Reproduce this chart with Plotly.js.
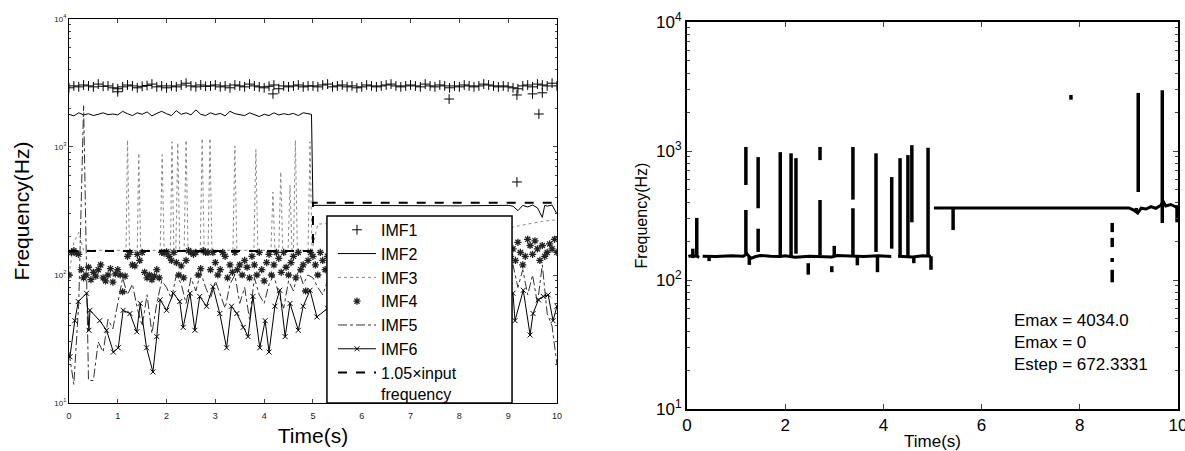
<!DOCTYPE html>
<html>
<head>
<meta charset="utf-8">
<script src="https://cdn.plot.ly/plotly-3.0.1.min.js"></script>
<style>html,body{margin:0;padding:0;background:#fff;}#chart{width:1185px;height:451px;}</style>
</head>
<body>
<div id="chart"></div>
<script>
// ---------- DATA ----------
// sampling instants (s)
const tStep01 = Array.from({length: 101}, (_, i) => Math.round(i * 10) / 100); // 0,0.1,...,10
const tStep005 = Array.from({length: 201}, (_, i) => Math.round(i * 5) / 100); // 0,0.05,...,10

// IMF1 (+ markers), Hz, at tStep01
const imf1F = [2900,3000,2950,3050,3000,2950,3100,2980,3000,2900,
               2850,2950,3050,3000,2900,2980,3020,3100,2950,3000,
               2900,3000,2950,3050,3150,3000,2950,3050,2980,3000,
               3050,2950,3000,2900,3050,3000,2950,3100,3000,2950,
               2900,2980,3050,2850,3000,2950,3000,3050,2950,3000,
               3000,2950,3050,3100,2950,3000,3050,2950,3000,2900,
               2950,3050,3000,2950,3000,3050,3100,3000,2950,3000,
               3050,3000,2950,3100,3000,2950,3050,3000,2900,3000,
               2950,3050,3000,2950,3000,3100,3050,3000,2950,3000,
               2950,2900,2850,3000,3050,2950,3100,3050,3000,3150,
               3000];
// IMF1 outliers
const imf1OutT = [1.0, 4.18, 7.79, 9.18, 9.18, 9.5, 9.63, 9.7];
const imf1OutF = [2700, 2600, 2370, 2550, 533, 2600, 1810, 2650];

// IMF2 (solid), Hz
const imf2T = [0,0.1,0.2,0.3,0.4,0.5,0.6,0.7,0.8,0.9,1.0,1.1,1.2,1.3,1.4,1.5,1.6,1.7,1.8,1.9,
               2.0,2.1,2.2,2.3,2.4,2.5,2.6,2.7,2.8,2.9,3.0,3.1,3.2,3.3,3.4,3.5,3.6,3.7,3.8,3.9,
               4.0,4.1,4.2,4.3,4.4,4.5,4.6,4.7,4.8,4.9,4.97,5.0,6.0,7.0,8.0,9.0,9.1,9.2,9.3,
               9.4,9.5,9.6,9.7,9.75,9.8,9.9,10];
const imf2F = [1800,1750,1850,1780,1820,1760,1800,1850,1790,1810,1780,1900,1820,1760,1850,1800,1880,1750,1830,1900,
               1820,1760,1920,1800,1850,1780,1950,1800,1760,1850,1790,1830,1750,1900,1820,1800,1760,1850,1780,1730,
               1800,1760,1850,1780,1820,1790,1830,1760,1850,1820,1800,350,348,350,347,350,345,318,350,
               340,352,335,282,350,345,352,300];

// IMF3 (dotted), Hz
const imf3T = [0,0.1,0.2,0.3,1.17,1.2,1.24,1.4,1.43,1.47,1.87,1.91,1.95,2.08,2.11,2.15,2.19,2.23,2.27,
               2.36,2.4,2.44,2.69,2.73,2.77,2.85,2.89,2.93,3.36,3.4,3.44,3.79,3.83,3.87,4.14,4.18,4.22,
               4.3,4.34,4.38,4.49,4.53,4.57,4.6,4.64,4.68,4.9,4.94,4.98,5.1,6.0,7.0,8.0,9.1,9.4,9.7,10];
const imf3F = [100,180,215,156,156,1135,156,156,898,156,156,870,156,156,1100,156,156,1080,156,
               156,1135,156,156,1170,156,156,1170,156,156,1020,156,156,960,156,156,445,156,
               156,638,156,156,505,156,156,1130,156,156,1100,156,250,260,270,255,237,250,262,270];

// IMF4 (* markers), Hz, at tStep005
const imf4F = [100,150,155,148,145,110,95,100,115,92,105,98,110,120,95,90,100,112,88,102,
               110,100,74,98,140,150,120,118,145,130,150,105,95,100,92,98,110,95,150,148,
               152,140,130,150,125,100,118,95,130,155,150,145,150,100,112,155,150,150,110,150,
               125,100,110,150,140,95,120,105,150,110,120,100,130,115,95,140,120,100,150,110,
               90,125,145,100,120,150,135,105,150,115,100,125,140,95,150,110,120,75,130,150,
               140,120,100,150,130,110,140,125,100,120,135,150,110,120,140,100,130,115,125,140,
               110,140,120,130,100,150,125,110,135,120,140,100,125,130,115,140,120,110,135,125,
               130,110,140,120,100,135,125,145,115,130,120,140,105,125,135,115,140,120,130,110,
               125,140,115,130,120,145,110,135,125,100,140,120,130,115,135,125,110,140,120,135,
               150,140,160,130,180,150,120,140,190,170,145,185,160,130,170,140,150,175,160,190,
               150];

// IMF5 (dash-dot), Hz, at tStep01
const imf5F = [25,14,60,2100,15,15,30,25,45,38,
               60,95,70,85,55,40,70,35,60,90,
               80,65,100,85,60,95,75,105,80,65,
               90,70,55,85,100,60,80,45,95,70,
               60,85,100,70,55,90,75,110,85,100,
               95,80,70,90,75,85,65,95,80,70,
               85,75,90,70,80,95,65,85,75,90,
               80,70,95,85,75,65,90,80,70,85,
               75,90,80,65,85,95,70,80,90,75,
               90,120,80,110,70,100,60,120,50,40,
               20];

// IMF6 (line with x markers), Hz
const imf6T = [0.02,0.12,0.19,0.36,0.41,0.43,0.63,0.77,0.91,1.01,1.11,1.25,1.39,1.46,1.59,1.72,1.8,1.87,
               2.0,2.14,2.27,2.34,2.48,2.58,2.68,2.82,2.95,3.09,3.23,3.33,3.44,3.57,3.67,3.77,3.91,4.02,
               4.1,4.22,4.32,4.43,4.53,4.7,4.8,4.94,5.08,5.3,5.6,6.0,6.5,7.0,7.5,8.0,8.5,9.0,
               9.1,9.14,9.31,9.45,9.51,9.62,9.72,9.82,9.92,10];
const imf6F = [23,44,62,72,37,53,44,37,25,27,53,50,36,60,27,17.5,33,64,
               53,72,62,39,72,37,68,57,81,50,27,57,50,39,33,68,27,44,
               25,57,76,33,60,37,57,76,47,55,50,60,45,55,50,60,50,60,
               72,44,76,34,50,64,68,70,44,57];

// 1.05 x input frequency (dashed), Hz
const inputT = [0, 5.0, 5.0, 10];
const inputF = [154, 154, 367, 367];

// Right panel: Hilbert-spectrum ridges
const ridge1T = [0.03,0.1,0.2,0.25,null,0.32,0.6,0.9,1.15,1.22,1.3,1.4,1.5,1.7,1.9,2.0,2.2,2.5,2.8,2.95,3.05,3.4,3.6,3.9,4.16,null,4.3,4.6,4.8,4.97];
const ridge1F = [152,155,153,150,null,153,152,154,153,160,147,152,155,153,152,154,150,153,152,151,155,153,152,154,152,null,153,151,154,153];
const ridge2T = [5.03, 6.0, 7.0, 8.0, 9.0, 9.12, 9.18, 9.25, 9.35, 9.45, 9.55, 9.65, 9.7, 9.75, 9.85, 9.95, 10];
const ridge2F = [362, 362, 362, 361, 362, 345, 330, 360, 355, 370, 360, 380, 405, 375, 385, 370, 360];
// vertical streaks: time, low edge, high edge (Hz)
const streakT  = [0.12,0.2,1.2,1.2,1.45,1.45,1.9,2.12,2.22,2.71,2.71,3.38,3.38,3.85,4.17,4.34,4.5,4.58,4.91,
                  1.27,2.47,2.95,3.0,3.47,3.88,4.62,0.45,4.97,
                  5.42,7.82,8.66,8.66,8.66,8.66,9.19,9.68,9.15,9.98];
const streakLo = [148,153,545,160,360,165,153,153,160,850,156,420,153,165,175,153,153,280,153,
                  131,110,115,153,130,115,135,140,120,
                  244,2500,235,180,138,96,481,277,330,280];
const streakHi = [175,303,1075,349,897,250,980,960,880,1075,417,1075,360,960,628,880,930,1110,1060,
                  153,135,128,184,153,153,153,153,153,
                  362,2720,277,212,148,120,2820,2960,362,380];

// ---------- BUILD ----------
const font = 'Arial, "Liberation Sans", sans-serif';
const segX = [], segY = [];
streakT.forEach((t, i) => { segX.push(t, t, null); segY.push(streakLo[i], streakHi[i], null); });

const traces = [
  {x: tStep01.concat(imf1OutT), y: imf1F.concat(imf1OutF), name: 'IMF1', mode: 'markers', xaxis: 'x', yaxis: 'y',
   marker: {symbol: 'cross-thin-open', size: 7, color: '#000', line: {width: 1, color: '#111'}}},
  {x: imf2T, y: imf2F, name: 'IMF2', mode: 'lines', xaxis: 'x', yaxis: 'y',
   line: {color: '#000', width: 1}},
  {x: imf3T, y: imf3F, name: 'IMF3', mode: 'lines', xaxis: 'x', yaxis: 'y',
   line: {color: '#888', width: 1, dash: 'dot'}},
  {x: tStep005, y: imf4F, name: 'IMF4', mode: 'markers', xaxis: 'x', yaxis: 'y',
   marker: {symbol: 'asterisk-open', size: 6, color: '#222', line: {width: 1.3, color: '#222'}}},
  {x: tStep01, y: imf5F, name: 'IMF5', mode: 'lines', xaxis: 'x', yaxis: 'y',
   line: {color: '#333', width: 1, dash: 'dashdot'}},
  {x: imf6T, y: imf6F, name: 'IMF6', mode: 'lines+markers', xaxis: 'x', yaxis: 'y',
   line: {color: '#000', width: 1}, marker: {symbol: 'x-thin-open', size: 5, color: '#000', line: {width: 1, color: '#000'}}},
  {x: inputT, y: inputF, name: '1.05\u00D7input<br>frequency', mode: 'lines', xaxis: 'x', yaxis: 'y',
   line: {color: '#000', width: 2, dash: 'dash'}},
  // right panel
  {x: ridge1T, y: ridge1F, mode: 'lines', xaxis: 'x2', yaxis: 'y2', showlegend: false,
   line: {color: '#000', width: 3}},
  {x: ridge2T, y: ridge2F, mode: 'lines', xaxis: 'x2', yaxis: 'y2', showlegend: false,
   line: {color: '#000', width: 3}},
  {x: segX, y: segY, mode: 'lines', xaxis: 'x2', yaxis: 'y2', showlegend: false,
   line: {color: '#000', width: 3.5}}
];

const minorVals = [20,30,40,50,60,70,80,90,200,300,400,500,600,700,800,900,2000,3000,4000,5000,6000,7000,8000,9000];
const logVals = [10, 100, 1000, 10000];
const logText = ['10<sup>1</sup>', '10<sup>2</sup>', '10<sup>3</sup>', '10<sup>4</sup>'];

const layout = {
  width: 1185, height: 451, autosize: false,
  margin: {l: 0, r: 0, t: 0, b: 0},
  paper_bgcolor: '#fff', plot_bgcolor: '#fff',
  font: {family: font, color: '#000'},
  showlegend: true,
  legend: {x: 0.281, y: 0.528, xanchor: 'left', yanchor: 'top', bgcolor: 'rgba(0,0,0,0)',
           borderwidth: 0, font: {size: 16, family: font}, valign: 'top', itemwidth: 38, tracegroupgap: 0},
  xaxis: {domain: [0.0582, 0.4700], range: [0, 10], dtick: 1, ticks: 'inside', ticklen: 4,
          showline: true, linecolor: '#000', linewidth: 1, mirror: 'ticks', showgrid: false, zeroline: false,
          tickfont: {size: 9, color: '#222'}, anchor: 'y', ticklabelstandoff: 4,
          title: {text: 'Time(s)', font: {size: 21}, standoff: 8}},
  yaxis: {domain: [0.1064, 0.9579], type: 'log', range: [1, 4], tickvals: logVals, ticktext: logText,
          ticks: 'inside', ticklen: 4, showline: true, linecolor: '#000', linewidth: 1, mirror: 'ticks',
          showgrid: false, zeroline: false, tickfont: {size: 8, color: '#222'}, anchor: 'x',
          minor: {ticks: 'inside', ticklen: 2, tickvals: minorVals, showgrid: false},
          title: {text: 'Frequency(Hz)', font: {size: 21}, standoff: 18}},
  xaxis2: {domain: [0.5797, 0.9941], range: [0, 10], dtick: 2, ticks: 'inside', ticklen: 5,
           showline: true, linecolor: '#000', linewidth: 2, mirror: 'ticks', showgrid: false, zeroline: false,
           tickfont: {size: 17}, anchor: 'y2', ticklabeloverflow: 'allow',
           title: {text: 'Time(s)', font: {size: 17}, standoff: 2}},
  yaxis2: {domain: [0.0931, 0.9512], type: 'log', range: [1, 4], tickvals: logVals, ticktext: logText,
           ticks: 'inside', ticklen: 5, showline: true, linecolor: '#000', linewidth: 2, mirror: 'ticks',
           showgrid: false, zeroline: false, tickfont: {size: 17}, anchor: 'x2',
           minor: {ticks: 'inside', ticklen: 3, tickvals: minorVals, showgrid: false},
           title: {text: 'Frequency(Hz)', font: {size: 16}, standoff: 4}},
  shapes: [
    {type: 'rect', xref: 'paper', yref: 'paper', x0: 0.2759, x1: 0.4321, y0: 0.1064, y1: 0.5211,
     fillcolor: '#fff', line: {color: '#000', width: 1.5}, layer: 'above'}
  ],
  annotations: [
    {xref: 'paper', yref: 'paper', x: 0.854, y: 0.314, xanchor: 'left', yanchor: 'top', align: 'left',
     showarrow: false, font: {size: 17, family: font},
     text: 'Emax = 4034.0<br>Emax = 0<br>Estep = 672.3331'}
  ]
};

Plotly.newPlot('chart', traces, layout, {staticPlot: true, displayModeBar: false});
</script>
</body>
</html>
